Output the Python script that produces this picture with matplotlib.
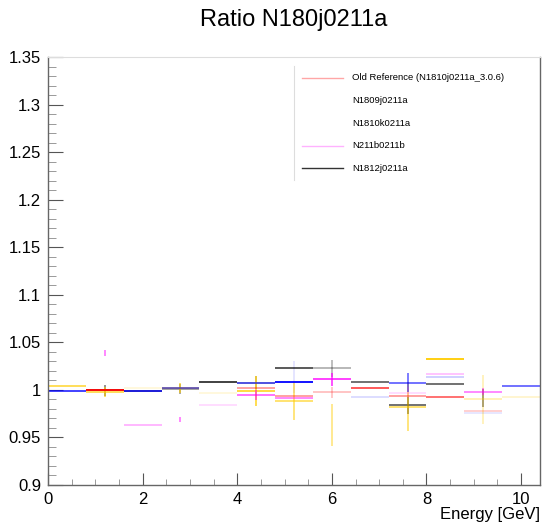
import numpy as np
import matplotlib
matplotlib.use("Agg")
import matplotlib.pyplot as plt
from matplotlib.colors import to_rgba
from matplotlib.ticker import MultipleLocator

plt.rcParams['font.family'] = ['Liberation Sans', 'DejaVu Sans']

## Data
nan = np.nan
bin_edges = [0.0, 0.8, 1.6, 2.4, 3.2, 4.0, 4.8, 5.6, 6.4, 7.2, 8.0, 8.8, 9.6, 10.4]

labels = ["Old Reference (N1810j0211a_3.0.6)", "N1809j0211a", "N1810k0211a",
          "N211b0211b", "N1812j0211a"]

ref_val = [nan, 1.0003, nan, nan, nan, 1.0015, 0.9941, 0.9975, 1.002, 0.9937, 0.9926, 0.9783, nan]
ref_err = [nan, nan, nan, nan, nan, nan, nan, 0.006, nan, nan, nan, nan, nan]

n1809_val = [1.0036, 0.9976, 1.0015, 1.002, 0.9972, 0.9986, 0.988, nan, nan, 0.9825, 1.032, 0.990, 0.992]
n1809_err = [nan, 0.005, nan, 0.005, nan, 0.016, 0.02, nan, nan, 0.026, nan, 0.026, nan]

n1810k_val = [0.9986, nan, 0.999, 1.002, nan, 1.007, 1.0088, nan, 0.992, 1.0074, 1.0137, 0.9758, 1.0046]
n1810k_err = [nan, nan, nan, nan, nan, nan, nan, nan, nan, 0.010, nan, nan, nan]

n211b_val = [nan, nan, 0.963, nan, 0.9836, 0.9947, 0.991, 1.011, nan, 0.997, 1.0168, 0.9983, nan]
n211b_err = [nan, nan, nan, nan, nan, 0.005, nan, 0.007, nan, 0.006, nan, 0.004, nan]

n1812_val = [nan, 0.9994, 0.999, 1.001, 1.0088, 1.0075, 1.0235, 1.0225, 1.0078, 0.984, 1.0063, nan, nan]
n1812_err = [nan, 0.006, nan, 0.005, nan, 0.007, nan, 0.009, nan, 0.009, nan, nan, nan]

# error bars whose central line is hidden or very faint
lone_x = [1.2, 2.8, 6.0, 9.2, 5.2]
lone_lo = [1.036, 0.966, 0.941, 0.9818, 0.9972]
lone_hi = [1.0415, 0.9715, 0.985, 1.0007, 1.0300]
lone_series = [3, 3, 1, 4, 2]

## Styles
colors = ["#ff0000", "#ffcc00", "#0000ff", "#ff00ff", "#000000"]
alphas = [
    [0, 1.0, 0, 0, 0, 0.4, 0.4, 0.25, 0.7, 0.4, 0.6, 0.2, 0],
    [0.7, 0.7, 0.15, 0.7, 0.15, 0.8, 0.6, 0, 0, 0.6, 1.0, 0.3, 0.2],
    [0.8, 0, 0.8, 0.6, 0, 0.6, 1.0, 0, 0.15, 0.6, 0.2, 0.1, 0.6],
    [0, 0, 0.3, 0, 0.15, 0.6, 0.5, 0.8, 0, 0.15, 0.25, 0.5, 0],
    [0, 0.5, 0.6, 0.4, 0.8, 0.3, 0.7, 0.3, 0.6, 0.6, 0.6, 0, 0],
]
lone_alpha = [0.55, 0.55, 0.5, 0.5, 0.12]
legend_alpha = [0.35, 0.0, 0.0, 0.3, 0.8]

W, H = 542, 525
fig = plt.figure(figsize=(W / 100, H / 100), dpi=100)
ax = fig.add_axes([48 / W, (H - 485) / H, 492 / W, 428 / H])

values = [ref_val, n1809_val, n1810k_val, n211b_val, n1812_val]
errors = [ref_err, n1809_err, n1810k_err, n211b_err, n1812_err]
lo_edges = np.array(bin_edges[:-1])
hi_edges = np.array(bin_edges[1:])
centers = (lo_edges + hi_edges) / 2

for x, lo, hi, s, a in zip(lone_x, lone_lo, lone_hi, lone_series, lone_alpha):
    ax.vlines(x, lo, hi, colors=to_rgba(colors[s], a), lw=1.2)

draw_order = [4, 1, 2, 3, 0]
for s in draw_order:
    v = np.array(values[s], dtype=float)
    e = np.array(errors[s], dtype=float)
    cols = [to_rgba(colors[s], a) for a in alphas[s]]
    ok = ~np.isnan(v)
    ax.hlines(v[ok], lo_edges[ok], hi_edges[ok],
              colors=[c for c, k in zip(cols, ok) if k], lw=1.3)
    okerr = ok & ~np.isnan(e)
    ax.vlines(centers[okerr], (v - e)[okerr], (v + e)[okerr],
              colors=[c for c, k in zip(cols, okerr) if k], lw=1.2)

ax.set_xlim(0, 10.4)
ax.set_ylim(0.9, 1.35)
ax.xaxis.set_major_locator(MultipleLocator(2))
ax.xaxis.set_minor_locator(MultipleLocator(0.5))
ax.yaxis.set_minor_locator(MultipleLocator(0.01))
ax.set_yticks([0.9, 0.95, 1.0, 1.05, 1.1, 1.15, 1.2, 1.25, 1.3, 1.35])
ax.set_yticklabels(["0.9", "0.95", "1", "1.05", "1.1", "1.15", "1.2", "1.25", "1.3", "1.35"])
ax.tick_params(axis='y', which='major', direction='in', length=10.5, width=0.8,
               color='#555555', labelsize=12, pad=5)
ax.tick_params(axis='y', which='minor', direction='in', length=5.5, width=0.7,
               color='#999999')
ax.tick_params(axis='x', which='major', direction='in', length=8.5, width=0.8,
               color='#555555', labelsize=12, pad=5)
ax.tick_params(axis='x', which='minor', direction='in', length=4.3, width=0.7,
               color='#999999')
for side in ['left', 'bottom', 'right']:
    ax.spines[side].set_color('#666666')
    ax.spines[side].set_linewidth(1.0)
ax.spines['top'].set_color('#dddddd')

fig.text(294 / W, 1 - 20 / H, "Ratio N180j0211a", ha='center', va='center', fontsize=17)
fig.text(540 / W, 1 - 515 / H, "Energy [GeV]", ha='right', va='center', fontsize=12)

# legend drawn by hand, ROOT style
fig.add_artist(plt.Line2D([294 / W, 294 / W], [1 - 66 / H, 1 - 180 / H],
                          transform=fig.transFigure, color='#dddddd', lw=0.8))
for i, lab in enumerate(labels):
    y = 1 - (78 + 22.6 * i) / H
    fig.add_artist(plt.Line2D([302 / W, 343 / W], [y, y], transform=fig.transFigure,
                              color=to_rgba(colors[i], legend_alpha[i]), lw=1.0))
    fig.text(352 / W, y, lab, ha='left', va='center', fontsize=6.8)

fig.savefig("out.png", dpi=100)
